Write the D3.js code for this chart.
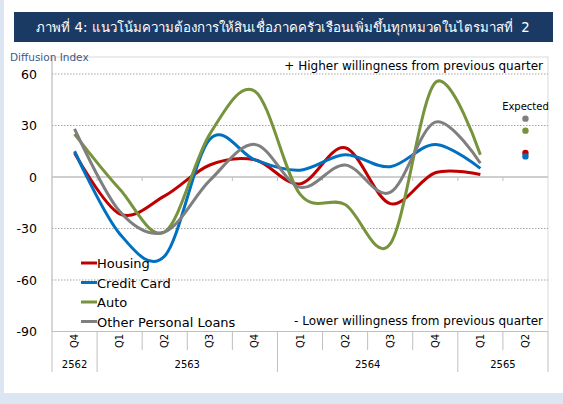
<!DOCTYPE html>
<html>
<head>
<meta charset="utf-8" />
<title>Diffusion Index</title>
<script src="https://cdn.jsdelivr.net/npm/d3@7/dist/d3.min.js"></script>
<style>
	body { margin: 0; background: #dce6f2; }
	svg { display: block; font-family: Tahoma, "DejaVu Sans", sans-serif; }
</style>
</head>
<body>
<svg id="chart" width="563" height="404"></svg>
<script>
// categories (one per quarter)
const quarters = ['Q4', 'Q1', 'Q2', 'Q3', 'Q4', 'Q1', 'Q2', 'Q3', 'Q4', 'Q1', 'Q2'];
const yearLabels = ['2562', '2563', '2564', '2565'];
const yearSpans = [1, 4, 4, 2];
const yTicks = [60, 30, 0, -30, -60, -90];

// series values, Q4/2562 .. Q1/2565
const housing = [14, -21.5, -11, 7, 10, -4, 17, -15.5, 2.5, 1.5];
const creditCard = [15, -33, -46, 22, 10, 4, 13, 6, 19, 5];
const auto = [25, -7, -32, 25, 50, -10, -16, -39, 55, 13];
const otherLoans = [28, -20, -32, -2, 19, -6, 7, -9, 32, 8];

// expected values for Q2/2565
const expected = [14, 12, 27, 34];

const seriesNames = ['Housing', 'Credit Card', 'Auto', 'Other Personal Loans'];
const colors = ['#c00000', '#0070c0', '#77933c', '#7f7f7f'];

const svg = d3.select('#chart');

// panel + title bar
svg.append('rect').attr('x', 4).attr('y', 0).attr('width', 559).attr('height', 393).attr('fill', '#fff');
svg.append('rect').attr('x', 14).attr('y', 12).attr('width', 539).attr('height', 30).attr('fill', '#1b3a63');
const title = svg.append('text')
	.attr('x', 283).attr('y', 32)
	.attr('text-anchor', 'middle')
	.attr('fill', '#fff')
	.style('font-size', '14px')
	.style('white-space', 'pre')
	.text('ภาพที่ 4: แนวโน้มความต้องการให้สินเชื่อภาคครัวเรือนเพิ่มขึ้นทุกหมวดในไตรมาสที่  2');
// shrink the title until it fits inside the bar
let fs = 14;
while (title.node().getComputedTextLength() > 500 && fs > 9) {
	fs -= 0.25;
	title.style('font-size', fs + 'px');
}

const plotL = 52, plotR = 548, plotT = 57;
const x = d3.scaleBand().domain(d3.range(quarters.length)).range([plotL, plotR]);
const y = d3.scaleLinear().domain([-90, 60]).range([331.5, 74]);
const cx = i => x(i) + x.bandwidth() / 2;

// frame
svg.append('rect')
	.attr('x', plotL).attr('y', plotT)
	.attr('width', plotR - plotL).attr('height', y(-90) - plotT)
	.attr('fill', 'none').attr('stroke', '#d9d9d9');

// gridlines
svg.append('g').selectAll('line')
	.data(yTicks.filter(d => d !== 0 && d !== -90))
	.join('line')
	.attr('x1', plotL).attr('x2', plotR)
	.attr('y1', d => y(d)).attr('y2', d => y(d))
	.attr('stroke', '#a6a6a6')
	.attr('stroke-dasharray', '1.5,1.5');

// y axis labels (plain hyphen minus like the original)
const yAxis = d3.axisLeft(y).tickValues(yTicks).tickSize(0).tickPadding(15)
	.tickFormat(d => String(d));
svg.append('g')
	.attr('transform', `translate(${plotL},0)`)
	.call(yAxis)
	.call(g => g.select('.domain').remove())
	.call(g => g.attr('font-family', null).attr('font-size', null))
	.call(g => g.selectAll('text').attr('fill', '#000').style('font-size', '12.5px'));

svg.append('line')
	.attr('x1', plotL).attr('x2', plotL).attr('y1', plotT).attr('y2', y(-90))
	.attr('stroke', '#bfbfbf');

svg.append('text')
	.attr('x', 10).attr('y', 61)
	.attr('fill', '#3b5a8a')
	.style('font-size', '10.5px')
	.text('Diffusion Index');

// zero axis with boundary ticks
const edges = d3.range(quarters.length + 1).map(i => i < quarters.length ? x(i) : plotR);
svg.append('line')
	.attr('x1', plotL).attr('x2', plotR).attr('y1', y(0)).attr('y2', y(0))
	.attr('stroke', '#bfbfbf').attr('stroke-width', 1.5);
svg.append('g').selectAll('line')
	.data(edges.slice(1, -1))
	.join('line')
	.attr('x1', d => d).attr('x2', d => d)
	.attr('y1', y(0)).attr('y2', y(0) + 4)
	.attr('stroke', '#bfbfbf');

// annotations
svg.append('text')
	.attr('x', 543).attr('y', 70)
	.attr('text-anchor', 'end')
	.style('font-size', '12px')
	.text('+ Higher willingness from previous quarter');
svg.append('text')
	.attr('x', 543).attr('y', 325)
	.attr('text-anchor', 'end')
	.style('font-size', '12px')
	.text('- Lower willingness from previous quarter');

// lines
const allSeries = [housing, creditCard, auto, otherLoans];
const line = d3.line()
	.x((d, i) => cx(i))
	.y(d => y(d))
	.curve(d3.curveCardinal.tension(0));

svg.append('g').selectAll('path')
	.data(allSeries)
	.join('path')
	.attr('d', d => line(d))
	.attr('fill', 'none')
	.attr('stroke', (d, i) => colors[i])
	.attr('stroke-width', 3);

// expected dots
svg.append('text')
	.attr('x', cx(10)).attr('y', 110)
	.attr('text-anchor', 'middle')
	.style('font-size', '10px')
	.text('Expected');
svg.append('g').selectAll('circle')
	.data(expected)
	.join('circle')
	.attr('cx', cx(10))
	.attr('cy', d => y(d))
	.attr('r', 3.2)
	.attr('fill', (d, i) => colors[i]);

// legend
const legend = svg.append('g').selectAll('g')
	.data(seriesNames)
	.join('g')
	.attr('transform', (d, i) => `translate(81,${263 + i * 19.5})`);
legend.append('line')
	.attr('x1', 0).attr('x2', 16)
	.attr('stroke', (d, i) => colors[i]).attr('stroke-width', 3);
legend.append('text')
	.attr('x', 16).attr('y', 5)
	.style('font-size', '13px')
	.text(d => d);

// category table below the plot
const base = y(-90);
svg.append('line')
	.attr('x1', plotL).attr('x2', plotR).attr('y1', base).attr('y2', base)
	.attr('stroke', '#bfbfbf');

let acc = 0;
const yearBounds = [0];
yearSpans.forEach(s => { acc += s; yearBounds.push(acc); });

svg.append('g').selectAll('line')
	.data(d3.range(quarters.length + 1))
	.join('line')
	.attr('x1', i => edges[i]).attr('x2', i => edges[i])
	.attr('y1', base)
	.attr('y2', i => yearBounds.includes(i) ? 372 : 350)
	.attr('stroke', '#bfbfbf');

svg.append('g').selectAll('text')
	.data(quarters)
	.join('text')
	.attr('transform', (d, i) => `translate(${cx(i) + 3.5},341) rotate(-90)`)
	.attr('text-anchor', 'middle')
	.style('font-size', '10px')
	.text(d => d);

svg.append('g').selectAll('text')
	.data(yearLabels)
	.join('text')
	.attr('x', (d, i) => (edges[yearBounds[i]] + edges[yearBounds[i + 1]]) / 2)
	.attr('y', 368)
	.attr('text-anchor', 'middle')
	.style('font-size', '10px')
	.text(d => d);
</script>
</body>
</html>
